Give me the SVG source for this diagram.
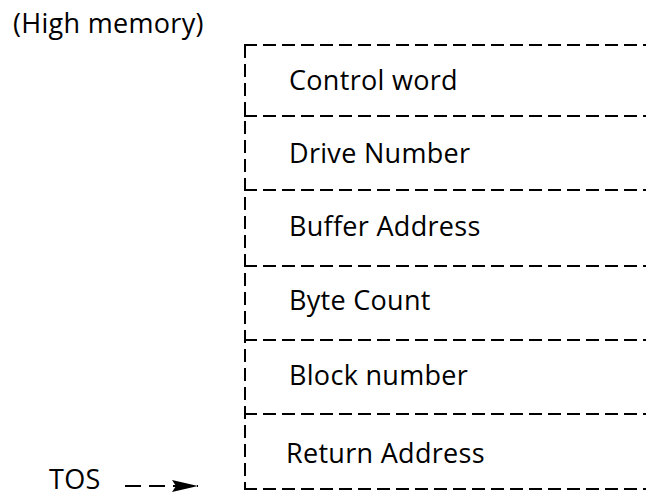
<svg xmlns="http://www.w3.org/2000/svg" width="646" height="497" viewBox="0 0 646 497">
<defs>
<style>
.t{font-family:"Open Sans","Liberation Sans",sans-serif;font-size:27px;fill:#000;letter-spacing:0.3px}
.d{stroke:#000;stroke-width:2;stroke-dasharray:13 6;fill:none}
</style>
<marker id="ah" viewBox="0 0 26 12" refX="26" refY="6" markerWidth="26" markerHeight="12" markerUnits="userSpaceOnUse" orient="auto">
<path d="M0,0 L26,6 L0,12 L4,6 Z" fill="#000"/>
</marker>
</defs>
<rect width="646" height="497" fill="#fff"/>
<g id="labels">
<text class="t" x="49" y="489">TOS</text>
<text class="t" x="13" y="33">(High memory)</text>
</g>
<g id="stack-frame">
<path class="d" d="M245,45 V489"/>
</g>
<g id="cell-control-word"><path class="d" d="M244,45 H646"/><text class="t" x="289" y="90">Control word</text></g>
<g id="cell-drive-number"><path class="d" d="M244,116 H646"/><text class="t" x="289" y="163">Drive Number</text></g>
<g id="cell-buffer-address"><path class="d" d="M244,190 H646"/><text class="t" x="289" y="236">Buffer Address</text></g>
<g id="cell-byte-count"><path class="d" d="M244,266 H646"/><text class="t" x="289" y="310">Byte Count</text></g>
<g id="cell-block-number"><path class="d" d="M244,340 H646"/><text class="t" x="289" y="385">Block number</text></g>
<g id="cell-return-address"><path class="d" d="M244,414 H646"/><text class="t" x="286" y="463">Return Address</text><path class="d" d="M244,489 H646"/></g>
<g id="connectors">
<path d="M125,486 H198" stroke="#000" stroke-width="2" stroke-dasharray="16 8" fill="none" marker-end="url(#ah)"/>
</g>
</svg>
